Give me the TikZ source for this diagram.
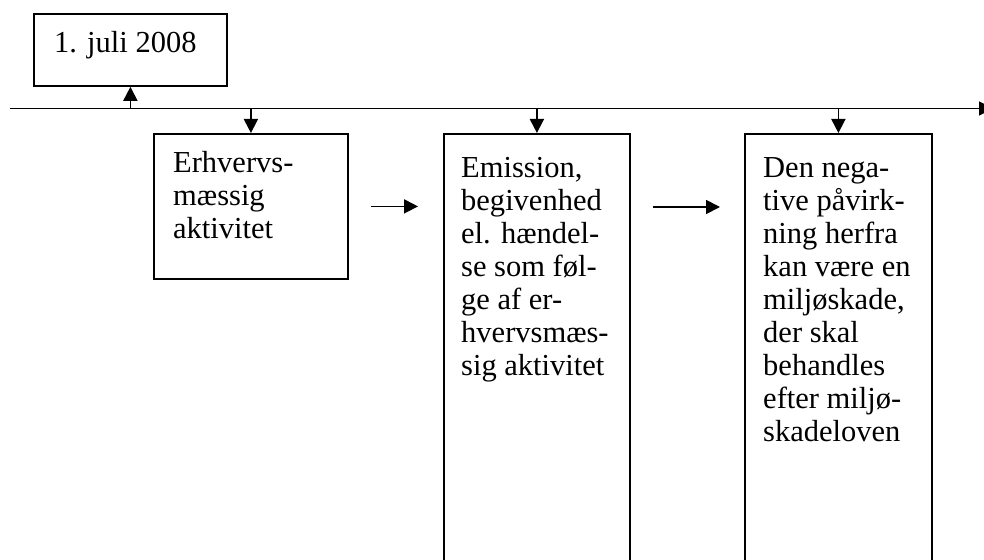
\documentclass[tikz,border=0pt]{standalone}
\usepackage{fontspec}
\setmainfont{Liberation Serif}
\usetikzlibrary{arrows.meta,positioning,calc}
\tikzset{
  box/.style = {draw, line width = 1.8pt, rectangle, anchor = north west, inner sep = 0pt},
  boxtext/.style = {anchor = north west, align = left, inner sep = 0pt, font = \fontsize{30.5}{33}\selectfont},
  conn/.style = {-{Triangle[length = 14pt, width = 14pt]}, line width = 1.8pt}
}

\begin{document}
\begin{tikzpicture}[x = 1pt, y = -1pt]
    \useasboundingbox (0,0) rectangle (984,559);
    \coordinate (ts) at (10,108.5);
    \coordinate (te) at (993,108.5);
    \node[box, minimum width = 193pt, minimum height = 72pt] (date) at (33,13) {};
    \node[box, minimum width = 194pt, minimum height = 145pt] (b1) at (153,133) {};
    \node[box, minimum width = 186pt, minimum height = 440pt] (b2) at (443,133) {};
    \node[box, minimum width = 187pt, minimum height = 440pt] (b3) at (744,133) {};
    \node[boxtext] (t0) at ([xshift = 21pt, yshift = -18pt] date.north west) {1. juli 2008};
    \node[boxtext] (t1) at ([xshift = 20pt, yshift = -18pt] b1.north west) {Erhvervs-\\mæssig\\aktivitet};
    \node[boxtext] (t2) at ([xshift = 18pt, yshift = -24pt] b2.north west) {Emission,\\begivenhed\\el. hændel-\\se som føl-\\ge af er-\\hvervsmæs-\\sig aktivitet};
    \node[boxtext] (t3) at ([xshift = 19pt, yshift = -24pt] b3.north west) {Den nega-\\tive påvirk-\\ning herfra\\kan være en\\miljøskade,\\der skal\\behandles\\efter miljø-\\skadeloven};
    \draw[conn] (ts) -- (te);
    \draw[conn] (date.south |- ts) -- (date.south);
    \draw[conn] (b1.north |- ts) -- (b1.north);
    \draw[conn] (b2.north |- ts) -- (b2.north);
    \draw[conn] (b3.north |- ts) -- (b3.north);
    \draw[conn] ([xshift = 22pt] b1.east) -- ([xshift = -25pt] b2.west |- b1.east);
    \draw[conn] ($(b2.north east) + (22,74)$) -- ($(b3.north west) + (-24,74)$);
    %\node[anchor = south] at (t0.north) {Tidslinje};
\end{tikzpicture}
\end{document}
